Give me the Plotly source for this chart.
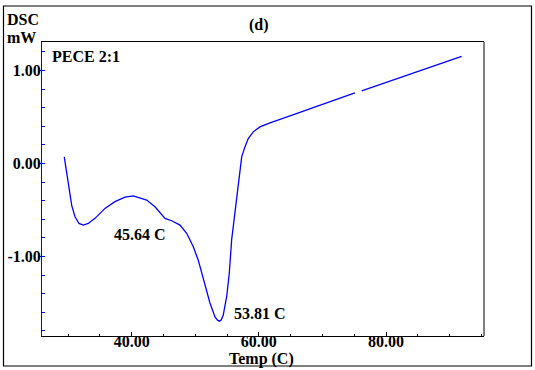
import plotly.graph_objects as go

# DSC curve (PECE 2:1)
temp = [29.40, 29.78, 30.14, 30.57, 31.08, 31.71, 32.39, 33.18, 34.23, 35.80,
        37.37, 38.95, 40.25, 41.30, 42.36, 43.66, 44.72, 45.24, 46.29, 47.60,
        48.65, 49.69, 50.47, 50.74, 51.10, 51.52, 52.31, 53.10, 53.50, 53.81,
        54.10, 54.40, 54.94, 55.35, 55.72, 56.13, 56.50, 56.87, 57.30, 57.81,
        58.33, 59.12, 60.17, 61.75, 63.58, 65.68, 68.55, 75.10, None, 76.16,
        91.88]
dsc = [0.071, -0.09, -0.27, -0.45, -0.57, -0.645, -0.663, -0.645, -0.59, -0.483,
       -0.41, -0.362, -0.348, -0.369, -0.394, -0.466, -0.555, -0.59, -0.616, -0.663,
       -0.75, -0.895, -1.04, -1.11, -1.18, -1.29, -1.50, -1.65, -1.685, -1.695,
       -1.68, -1.63, -1.43, -1.18, -0.82, -0.59, -0.394, -0.144, 0.071, 0.178,
       0.268, 0.34, 0.393, 0.436, 0.483, 0.53, 0.60, 0.76, None, 0.78,
       1.152]

x_ticks = [40, 60, 80]
y_ticks = [-1, 0, 1]
peak_labels = ["45.64 C", "53.81 C"]

FONT = "Liberation Serif"
W, H = 535, 370
L, R, T, B = 42, 51, 42, 34
PW, PH = W - L - R, H - T - B


def px(x):
    return (x - L) / PW


def py(y):
    return (H - B - y) / PH


fig = go.Figure()
fig.add_trace(go.Scatter(x=temp, y=dsc, mode="lines",
                         line=dict(color="#0000ff", width=1.3),
                         connectgaps=False, showlegend=False, hoverinfo="skip"))

fig.update_layout(
    width=W, height=H,
    margin=dict(l=L, r=R, t=T, b=B, autoexpand=False),
    paper_bgcolor="white", plot_bgcolor="white",
    font=dict(family=FONT, size=16, color="black"),
    xaxis=dict(range=[25.9, 95.4], tickvals=x_ticks,
               ticktext=[f"{v:.2f}" for v in x_ticks],
               showgrid=False, zeroline=False, automargin=False,
               showline=True, linecolor="black", linewidth=1, mirror=True,
               ticks="inside", ticklen=4, tickcolor="black",
               ticklabelstandoff=-9,
               minor=dict(dtick=5, tick0=0, ticks="inside", ticklen=2,
                          tickcolor="black", showgrid=False),
               tickfont=dict(family=FONT, size=16, color="black", weight="bold")),
    yaxis=dict(range=[-1.855, 1.306], tickvals=y_ticks,
               ticktext=[f"{v:.2f}" for v in y_ticks],
               showgrid=False, zeroline=False, automargin=False,
               showline=True, linecolor="#0000ff", linewidth=1, mirror=False,
               ticks="outside", ticklen=3, tickcolor="#0000ff",
               ticklabelstandoff=-6,
               minor=dict(dtick=0.2, tick0=0, ticks="inside", ticklen=3,
                          tickcolor="#0000ff", showgrid=False),
               tickfont=dict(family=FONT, size=16, color="black", weight="bold")),
)

# right border of plot area (black) and outer frame
fig.add_shape(type="line", xref="paper", yref="paper", x0=1, x1=1, y0=0, y1=1,
              line=dict(color="black", width=1))
fig.add_shape(type="rect", xref="paper", yref="paper",
              x0=px(3.5), x1=px(531.5), y0=py(366), y1=py(6),
              line=dict(color="black", width=1.2))

bold = dict(family=FONT, size=16, color="black", weight="bold")
annots = [
    dict(text="DSC", x=px(5), y=py(19), xanchor="left"),
    dict(text="mW", x=px(5), y=py(37), xanchor="left"),
    dict(text="(d)", x=px(258.5), y=py(25), xanchor="center"),
    dict(text="PECE 2:1", x=px(50), y=py(56), xanchor="left"),
    dict(text="Temp (C)", x=px(261), y=py(359), xanchor="center"),
]
for a in annots:
    fig.add_annotation(xref="paper", yref="paper", yanchor="middle",
                       showarrow=False, font=bold, **a)

fig.add_annotation(x=36.86, y=-0.765, text=peak_labels[0], xanchor="left",
                   yanchor="middle", showarrow=False, font=bold)
fig.add_annotation(x=55.77, y=-1.608, text=peak_labels[1], xanchor="left",
                   yanchor="middle", showarrow=False, font=bold)

fig.write_html("out.html", config={"displayModeBar": False},
               post_script="document.body.style.margin='0';")
